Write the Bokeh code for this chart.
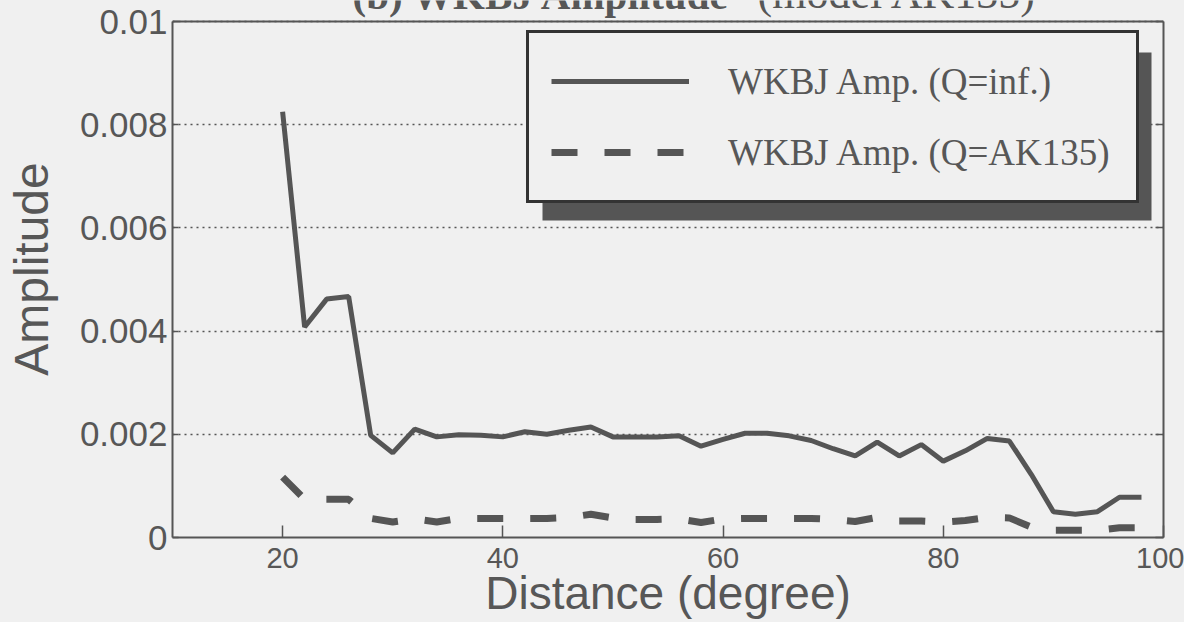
from bokeh.plotting import figure
from bokeh.models import (Range1d, FixedTicker, LinearAxis, Legend, LegendItem,
                          Label, BoxAnnotation, Span)
from bokeh.embed import file_html
from bokeh.resources import INLINE

# ---------------- data ----------------
distance = [20, 22, 24, 26, 28, 30, 32, 34, 36, 38,
            40, 42, 44, 46, 48, 50, 52, 54, 56, 58,
            60, 62, 64, 66, 68, 70, 72, 74, 76, 78,
            80, 82, 84, 86, 88, 90, 92, 94, 96, 98]

amp_q_inf = [0.00825, 0.00408, 0.00462, 0.00467, 0.00198, 0.00164, 0.00210, 0.00195, 0.00199, 0.00198,
             0.00195, 0.00205, 0.00200, 0.00208, 0.00214, 0.00195, 0.00195, 0.00195, 0.00197, 0.00177,
             0.00190, 0.00202, 0.00202, 0.00197, 0.00188, 0.00172, 0.00158, 0.00185, 0.00158, 0.00180,
             0.00148, 0.00168, 0.00192, 0.00187, 0.00122, 0.00050, 0.00045, 0.00050, 0.00078, 0.00078]

amp_q_ak135 = [0.00117, 0.00074, 0.00074, 0.00074, 0.00037, 0.00030, 0.00036, 0.00030, 0.00037, 0.00037,
               0.00037, 0.00037, 0.00037, 0.00039, 0.00045, 0.00038, 0.00035, 0.00035, 0.00036, 0.00029,
               0.00036, 0.00037, 0.00037, 0.00037, 0.00037, 0.00035, 0.00031, 0.00039, 0.00032, 0.00032,
               0.00030, 0.00033, 0.00039, 0.00038, 0.00020, 0.00014, 0.00014, 0.00014, 0.00019, 0.00019]

series_labels = ["WKBJ Amp. (Q=inf.)", "WKBJ Amp. (Q=AK135)"]
x_ticks = [20, 40, 60, 80, 100]
y_ticks = [0, 0.002, 0.004, 0.006, 0.008, 0.01]
y_tick_labels = ["0", "0.002", "0.004", "0.006", "0.008", "0.01"]
title_bold = "(b) WKBJ Amplitude"
title_normal = "(model AK135)"
x_label = "Distance (degree)"
y_label = "Amplitude"

# ---------------- style ----------------
BG = "#f0f0f0"
INK = "#555555"
TXT = "#575757"
SANS = "Liberation Sans"
SERIF = "Liberation Serif"

W, H = 1184, 622
X0, X1, Y0, Y1 = 10, 100, 0, 0.01
# plotting box on the page (the frame itself reaches the top edge so the
# clipped title can live above the box)
FL, FR, FT, FB = 172, 1163, 21, 537


def dx(sx):
    return X0 + (sx - FL) * (X1 - X0) / (FR - FL)


def dy(sy):
    return Y0 + (FB - sy) * (Y1 - Y0) / (FB - FT)


p = figure(width=W, height=H,
           x_range=Range1d(X0, X1), y_range=Range1d(Y0, dy(0)),
           output_backend="svg", toolbar_location=None,
           min_border_left=FL, min_border_right=W - FR,
           min_border_top=0, min_border_bottom=H - FB,
           background_fill_color=BG, border_fill_color=BG,
           outline_line_color=None)

r1 = p.line(distance, amp_q_inf, line_color=INK, line_width=5)
r2 = p.line(distance, amp_q_ak135, line_color=INK, line_width=7, line_dash="26 27")

bottom_axis = p.below[0]
left_axis = p.left[0]
bottom_axis.ticker = FixedTicker(ticks=x_ticks)
left_axis.ticker = FixedTicker(ticks=y_ticks)
left_axis.major_label_overrides = {t: s for t, s in zip(y_ticks, y_tick_labels)}
left_axis.bounds = (Y0, Y1)

right_axis = LinearAxis(ticker=FixedTicker(ticks=y_ticks), bounds=(Y0, Y1))
p.add_layout(right_axis, "right")

for ax in [bottom_axis, left_axis, right_axis]:
    ax.axis_line_color = INK
    ax.axis_line_width = 2
    ax.major_tick_line_color = INK
    ax.major_tick_line_width = 1.5
    ax.major_tick_out = 0
    ax.minor_tick_line_color = None
    ax.major_label_text_color = TXT
    ax.major_label_text_font = SANS

bottom_axis.major_tick_in = 12
bottom_axis.major_label_text_font_size = "29px"
bottom_axis.major_label_standoff = 10
bottom_axis.axis_label = x_label
bottom_axis.axis_label_text_font = SANS
bottom_axis.axis_label_text_font_size = "46px"
bottom_axis.axis_label_text_font_style = "normal"
bottom_axis.axis_label_text_color = TXT
bottom_axis.axis_label_standoff = -4

left_axis.major_tick_in = 6
left_axis.major_label_text_font_size = "35px"
left_axis.major_label_standoff = 5
left_axis.axis_label = y_label
left_axis.axis_label_text_font = SANS
left_axis.axis_label_text_font_size = "48px"
left_axis.axis_label_text_font_style = "normal"
left_axis.axis_label_text_color = TXT
left_axis.axis_label_standoff = 19

right_axis.major_tick_in = 8
right_axis.major_label_text_font_size = "1px"
right_axis.major_label_text_color = None

# top edge of the box
p.add_layout(Span(location=Y1, dimension="width", line_color=INK, line_width=2))

# grid
p.xgrid.visible = False
p.ygrid.grid_line_color = INK
p.ygrid.grid_line_width = 1.5
p.ygrid.grid_line_dash = "2 4"

# title (cut at the top as in the reference)
p.add_layout(Label(x=dx(352), y=dy(17), text=title_bold, text_font=SERIF,
                   text_font_size="41px", text_font_style="bold", text_color=TXT,
                   text_align="left", text_baseline="bottom"))
p.add_layout(Label(x=dx(757), y=dy(17), text=title_normal, text_font=SERIF,
                   text_font_size="44px", text_color=TXT,
                   text_align="left", text_baseline="bottom"))

# legend shadow
p.add_layout(BoxAnnotation(left=dx(542), right=dx(1151), top=dy(52), bottom=dy(220),
                           fill_color=INK, fill_alpha=1, line_color=None))

legend = Legend(items=[LegendItem(label=series_labels[0], renderers=[r1]),
                       LegendItem(label=series_labels[1], renderers=[r2])],
                location=(526 - FL, FB - 203), margin=0,
                padding=22, spacing=19, glyph_width=138, glyph_height=52,
                label_height=52, label_width=386, label_standoff=39,
                label_text_font=SERIF, label_text_font_size="37px",
                label_text_color=TXT,
                border_line_color="#333333", border_line_width=3,
                border_line_alpha=1,
                background_fill_color=BG, background_fill_alpha=1)
p.add_layout(legend)

open("out.html", "w").write(file_html(p, INLINE).replace(
    "</head>", "<style>html,body{background:#f0f0f0;}</style></head>", 1))
